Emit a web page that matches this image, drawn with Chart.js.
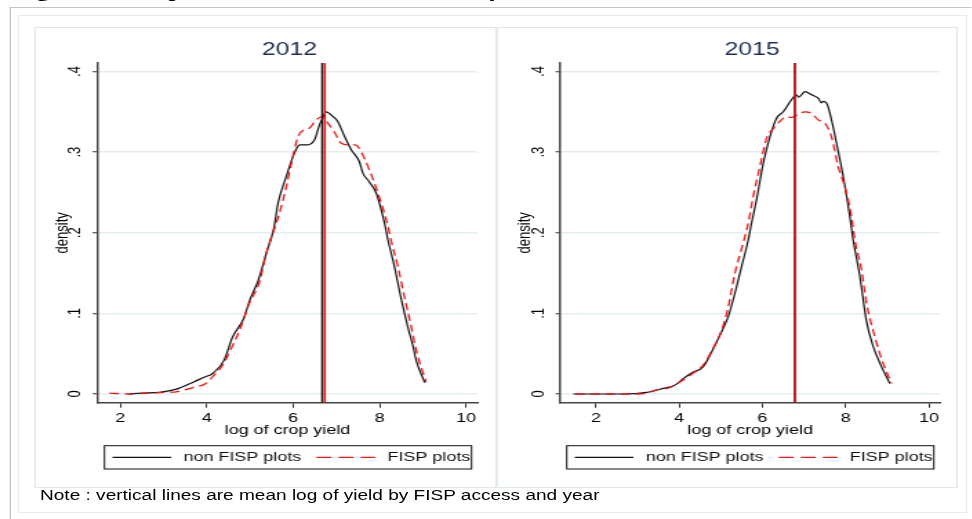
<!DOCTYPE html>
<html>
<head>
<meta charset="utf-8">
<script src="https://cdn.jsdelivr.net/npm/chart.js@4.4.0/dist/chart.umd.min.js"></script>
<style>
html, body { margin: 0; padding: 0; background: #fff; overflow: hidden; }
body { width: 972px; height: 519px; position: relative; }
/* the reference is a Stata export stretched sideways, so the whole page is too */
#stage { position: absolute; left: 0; top: 0; width: 704.35px; height: 519px;
  transform: scaleX(1.38); transform-origin: 0 0; font-family: 'Liberation Sans', Arial, sans-serif; }
.abs { position: absolute; }
#caption { left: 10.5px; top: -18.5px; font: bold 18px 'Liberation Serif', 'Times New Roman', serif;
  line-height: 18px; white-space: nowrap; color: #000; }
#ruleTop { left: 7.25px; top: 7px; width: 697.1px; height: 0; border-top: 1.5px solid #c4c4c4; }
#ruleLeft { left: 7.25px; top: 7px; width: 0; height: 512px; border-left: 1.1px solid #c4c4c4; }
#frame { left: 13.04px; top: 15px; width: 688.4px; height: 498px; border: 1px solid #e6edef; box-sizing: border-box; }
.panel { top: 27px; height: 461px; border: 1px solid #dfe8ea; box-sizing: border-box; }
canvas { position: absolute; top: 27px; }
#note { left: 29px; top: 488px; font-size: 13.8px; line-height: 16px; color: #000; white-space: nowrap; }
</style>
</head>
<body>
<div id="stage">
  <div id="caption" class="abs">Figure 2: Comparison of Kernel Densities of yield</div>
  <div id="ruleTop" class="abs"></div>
  <div id="ruleLeft" class="abs"></div>
  <div id="frame" class="abs"></div>
  <div class="abs panel" style="left:25.36px;width:334.78px"></div>
  <div class="abs panel" style="left:360.14px;width:334.06px"></div>
  <canvas id="c2012" width="335" height="461" style="left:25.36px"></canvas>
  <canvas id="c2015" width="335" height="461" style="left:360.14px"></canvas>
  <div id="note" class="abs">Note : vertical lines are mean log of yield by FISP access and year</div>
</div>
<script>
// ticks
const xTicks = [2, 4, 6, 8, 10];
const xTickLabels = ['2', '4', '6', '8', '10'];
const yTicks = [0, 0.1, 0.2, 0.3, 0.4];
const yTickLabels = ['0', '.1', '.2', '.3', '.4'];
const seriesNames = ['non FISP plots', 'FISP plots'];
const years = ['2012', '2015'];

// kernel densities (log of crop yield, density)
const x2012Non = [2.2, 2.5, 2.9, 3.3, 3.7, 4.0, 4.1, 4.4, 4.6, 4.85, 5.0, 5.2, 5.38, 5.55, 5.65, 5.84, 6.03, 6.15, 6.3, 6.49, 6.61, 6.68, 6.76, 6.92, 7.03, 7.19, 7.34, 7.53, 7.61, 7.76, 7.92, 8.11, 8.19, 8.34, 8.5, 8.65, 8.77, 8.84, 9.04];
const d2012Non = [0.000, 0.001, 0.002, 0.006, 0.015, 0.022, 0.024, 0.042, 0.071, 0.093, 0.117, 0.142, 0.175, 0.205, 0.237, 0.270, 0.299, 0.309, 0.309, 0.315, 0.334, 0.342, 0.350, 0.344, 0.338, 0.319, 0.303, 0.288, 0.274, 0.263, 0.249, 0.212, 0.191, 0.158, 0.117, 0.083, 0.059, 0.042, 0.014];
const x2012Fisp = [1.75, 2.2, 2.6, 3.0, 3.33, 3.68, 3.98, 4.18, 4.37, 4.57, 4.76, 4.99, 5.22, 5.38, 5.61, 5.68, 5.84, 5.99, 6.11, 6.26, 6.38, 6.53, 6.68, 6.80, 6.95, 7.11, 7.30, 7.42, 7.49, 7.65, 7.76, 7.96, 8.19, 8.26, 8.42, 8.57, 8.73, 8.84, 9.07];
const d2012Fisp = [0.001, 0.000, 0.001, 0.002, 0.003, 0.008, 0.013, 0.024, 0.036, 0.057, 0.079, 0.113, 0.139, 0.175, 0.212, 0.224, 0.257, 0.294, 0.319, 0.328, 0.330, 0.340, 0.344, 0.336, 0.325, 0.311, 0.309, 0.309, 0.307, 0.292, 0.278, 0.249, 0.208, 0.191, 0.158, 0.121, 0.083, 0.055, 0.015];
const x2015Non = [1.46, 2.0, 2.66, 3.22, 3.62, 3.90, 4.10, 4.30, 4.58, 4.78, 4.98, 5.18, 5.34, 5.50, 5.66, 5.74, 5.86, 6.02, 6.18, 6.34, 6.50, 6.70, 6.82, 6.87, 7.02, 7.18, 7.34, 7.42, 7.46, 7.54, 7.66, 7.78, 7.94, 8.10, 8.18, 8.34, 8.50, 8.66, 8.86, 9.06];
const d2015Non = [0.000, 0.000, 0.000, 0.002, 0.007, 0.011, 0.019, 0.026, 0.034, 0.052, 0.073, 0.096, 0.125, 0.158, 0.191, 0.212, 0.241, 0.286, 0.319, 0.342, 0.350, 0.365, 0.371, 0.368, 0.375, 0.371, 0.367, 0.361, 0.363, 0.361, 0.340, 0.311, 0.270, 0.220, 0.191, 0.146, 0.090, 0.059, 0.034, 0.013];
const x2015Fisp = [1.5, 2.0, 3.0, 3.22, 3.46, 3.78, 4.02, 4.34, 4.58, 4.82, 5.02, 5.18, 5.34, 5.50, 5.66, 5.78, 5.94, 6.10, 6.26, 6.42, 6.58, 6.70, 6.90, 7.02, 7.18, 7.34, 7.50, 7.66, 7.82, 7.98, 8.14, 8.22, 8.38, 8.50, 8.70, 8.90, 9.10];
const d2015Fisp = [0.000, 0.000, 0.000, 0.001, 0.005, 0.008, 0.015, 0.026, 0.036, 0.057, 0.079, 0.108, 0.150, 0.180, 0.212, 0.245, 0.282, 0.317, 0.329, 0.338, 0.344, 0.343, 0.348, 0.350, 0.348, 0.340, 0.336, 0.319, 0.282, 0.257, 0.220, 0.191, 0.154, 0.113, 0.071, 0.038, 0.013];

// mean log of yield (vertical lines), per year
const meanNon = [6.67, 6.78];
const meanFisp = [6.73, 6.785];

// axis ranges (Stata adds a margin around the data)
const xMin = [1.475, 1.152];
const xMax = [10.26, 10.26];
const yMin = -0.0108;
const yMax = 0.4105;

const BLACK = '#111111';
const RED = '#f01414';
const FONT = "'Liberation Sans', Arial, sans-serif";

const zip = (xs, ys) => xs.map((x, i) => ({ x: x, y: ys[i] }));

// title above the plot and the boxed legend below it
const decor = {
  id: 'decor',
  afterDraw(chart, args, opts) {
    const { ctx, chartArea } = chart;
    ctx.save();
    ctx.fillStyle = '#1d2e54';
    ctx.font = '18px ' + FONT;
    ctx.textAlign = 'center';
    ctx.textBaseline = 'middle';
    ctx.fillText(opts.title, (chartArea.left + chartArea.right) / 2 + 1.5, 23);

    const bx = 50.7, by = 418.7, bw = 266, bh = 23.3;
    ctx.strokeStyle = '#111';
    ctx.lineWidth = 1;
    ctx.strokeRect(bx, by, bw, bh);
    const ly = by + bh / 2;
    const starts = [56.5, 204.3];
    const colors = [BLACK, RED];
    const dashes = [[], [10.9, 5.1]];
    ctx.font = '13px ' + FONT;
    ctx.textAlign = 'left';
    seriesNames.forEach((name, i) => {
      ctx.beginPath();
      ctx.setLineDash(dashes[i]);
      ctx.strokeStyle = colors[i];
      ctx.lineWidth = 1.3;
      ctx.moveTo(starts[i], ly);
      ctx.lineTo(starts[i] + 42.5, ly);
      ctx.stroke();
      ctx.setLineDash([]);
      ctx.fillStyle = '#111';
      ctx.fillText(name, starts[i] + 51.5, ly + 0.5);
    });
    ctx.restore();
  }
};

const crearPanel = (id, k, non, fisp, yAxisWidth) => {
  const ctx = document.getElementById(id).getContext('2d');
  return new Chart(ctx, {
    type: 'line',
    data: {
      datasets: [
        { label: 'mean FISP', data: [{ x: meanFisp[k], y: yMin }, { x: meanFisp[k], y: yMax }],
          borderColor: RED, borderWidth: 1.5, order: 0 },
        { label: 'mean non FISP', data: [{ x: meanNon[k], y: yMin }, { x: meanNon[k], y: yMax }],
          borderColor: BLACK, borderWidth: 1.5, order: 1 },
        { label: seriesNames[1], data: fisp, borderColor: RED, borderWidth: 1.3,
          borderDash: [7, 4], cubicInterpolationMode: 'monotone', order: 2 },
        { label: seriesNames[0], data: non, borderColor: BLACK, borderWidth: 1.2,
          cubicInterpolationMode: 'monotone', order: 3 }
      ]
    },
    options: {
      responsive: false,
      animation: false,
      devicePixelRatio: 1,
      layout: { padding: { left: 0, right: 14, top: 36, bottom: 50 } },
      elements: { point: { radius: 0 }, line: { fill: false } },
      plugins: {
        legend: { display: false },
        tooltip: { enabled: false },
        decor: { title: years[k] }
      },
      scales: {
        x: {
          type: 'linear',
          min: xMin[k],
          max: xMax[k],
          afterBuildTicks: (s) => { s.ticks = xTicks.map(v => ({ value: v })); },
          afterFit: (s) => { s.height = 35.3; },
          ticks: {
            color: '#000',
            font: { family: FONT, size: 13 },
            padding: 3,
            maxRotation: 0,
            callback: (v) => xTickLabels[xTicks.indexOf(v)]
          },
          grid: { drawOnChartArea: false, drawTicks: true, tickLength: 5, tickColor: '#333', tickWidth: 1 },
          border: { color: '#444', width: 1.5 },
          title: { display: true, text: 'log of crop yield', color: '#000',
            font: { family: FONT, size: 13 }, padding: { top: 0, bottom: 0 } }
        },
        y: {
          type: 'linear',
          min: yMin,
          max: yMax,
          afterBuildTicks: (s) => { s.ticks = yTicks.map(v => ({ value: v })); },
          afterFit: (s) => { s.width = yAxisWidth; },
          ticks: {
            color: '#000',
            font: { family: FONT, size: 13 },
            minRotation: 90,
            maxRotation: 90,
            crossAlign: 'center',
            padding: 7,
            callback: (v) => yTickLabels[yTicks.indexOf(v)]
          },
          grid: { color: '#e4edf0', lineWidth: 1.5, tickLength: 3.6, tickColor: '#333', tickWidth: 1 },
          border: { color: '#444', width: 1.5 },
          title: { display: true, text: 'density', color: '#000',
            font: { family: FONT, size: 13 }, padding: { top: 12.5, bottom: 0 } }
        }
      }
    },
    plugins: [decor]
  });
};

crearPanel('c2012', 0, zip(x2012Non, d2012Non), zip(x2012Fisp, d2012Fisp), 45.65);
crearPanel('c2015', 1, zip(x2015Non, d2015Non), zip(x2015Fisp, d2015Fisp), 46.16);
</script>
</body>
</html>
